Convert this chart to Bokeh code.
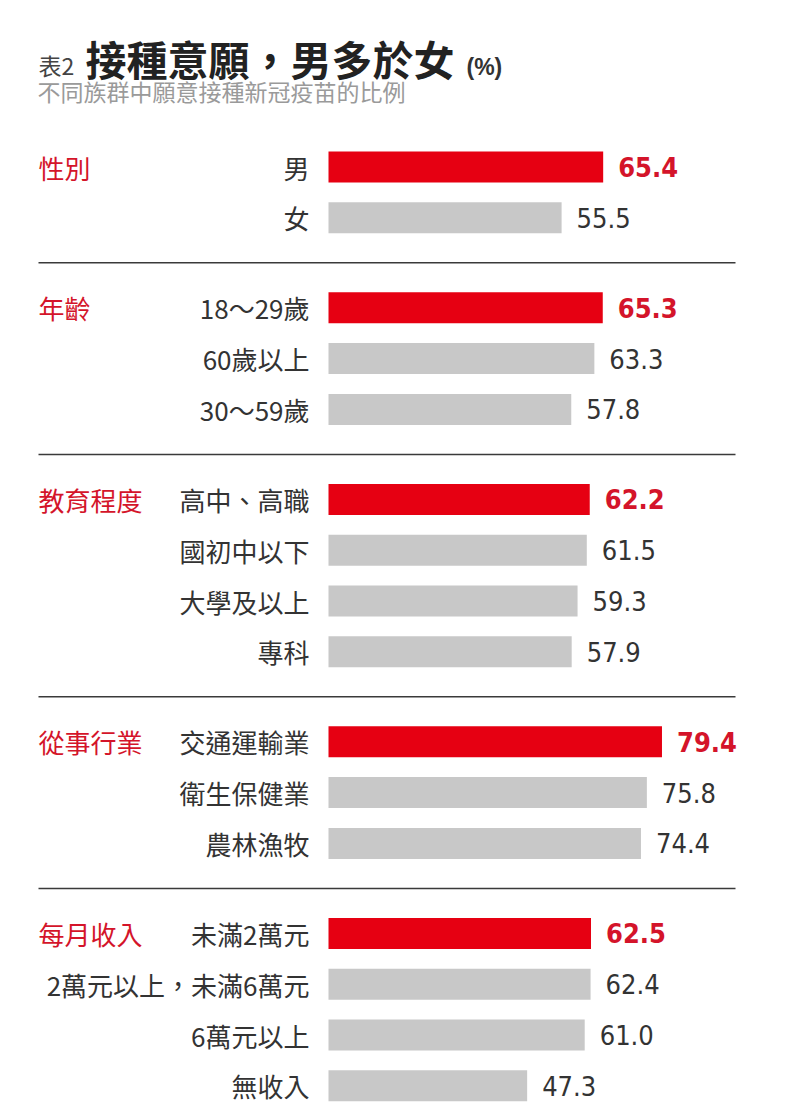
from bokeh.plotting import figure
from bokeh.models import Range1d
from bokeh.core.properties import value
from bokeh.embed import file_html
from bokeh.resources import INLINE

# ---- data ----
groups = ["性別", "年齡", "教育程度", "從事行業", "每月收入"]
group_sizes = [2, 3, 4, 3, 4]
categories = ["男", "女",
              "18～29歲", "60歲以上", "30～59歲",
              "高中、高職", "國初中以下", "大學及以上", "專科",
              "交通運輸業", "衛生保健業", "農林漁牧",
              "未滿2萬元", "2萬元以上，未滿6萬元", "6萬元以上", "無收入"]
values = [65.4, 55.5,
          65.3, 63.3, 57.8,
          62.2, 61.5, 59.3, 57.9,
          79.4, 75.8, 74.4,
          62.5, 62.4, 61.0, 47.3]
title_prefix = "表2"
title_main = "接種意願，男多於女"
title_unit = "(%)"
subtitle = "不同族群中願意接種新冠疫苗的比例"

# ---- layout ----
W, H = 792, 1118
S = 4.2            # px per percentage point
X0 = 328           # px position of value 0
TOP = 166.5
ROW = 50.8
GAP = 39.2
RED_BAR = "#e60012"
RED_TXT = "#d4142a"
GREY_BAR = "#c8c8c8"
TXT = "#333333"
CJK = "Noto Sans CJK TC"
NUM = "DejaVu Sans Condensed, Roboto, sans-serif"

xs = -X0 / S
p = figure(width=W, height=H, x_range=Range1d(xs, (W - X0) / S),
           y_range=Range1d(H, 0), output_backend="svg",
           toolbar_location=None, min_border=0)
p.axis.visible = False
p.grid.visible = False
p.outline_line_color = None
p.background_fill_color = "white"
p.border_fill_color = "white"

ys, first_flags = [], []
i = 0
for g, n in enumerate(group_sizes):
    for k in range(n):
        ys.append(TOP + i * ROW + g * GAP)
        first_flags.append(k == 0)
        i += 1

colors = [RED_BAR if f else GREY_BAR for f in first_flags]
p.hbar(y=ys, left=0, right=values, height=31, color=colors, line_color=None)

p.text(x=[0] * len(ys), y=ys, text=categories, x_offset=-19,
       text_align="right", text_baseline="middle",
       text_font=value(CJK), text_font_size="26px", text_color=TXT)

hi = [j for j, f in enumerate(first_flags) if f]
lo = [j for j, f in enumerate(first_flags) if not f]
p.text(x=[values[j] for j in hi], y=[ys[j] for j in hi],
       text=["%.1f" % values[j] for j in hi], x_offset=15,
       text_align="left", text_baseline="middle",
       text_font=value(NUM), text_font_style="bold",
       text_font_size="27px", text_color=RED_TXT)
p.text(x=[values[j] for j in lo], y=[ys[j] for j in lo],
       text=["%.1f" % values[j] for j in lo], x_offset=15,
       text_align="left", text_baseline="middle",
       text_font=value(NUM), text_font_size="27px", text_color=TXT)

# group labels
gy = [ys[j] for j in hi]
p.text(x=[xs] * len(groups), y=gy, text=groups, x_offset=38,
       text_align="left", text_baseline="middle",
       text_font=value(CJK), text_font_size="26px", text_color=RED_TXT)

# separators
seps = []
start = 0
for n in group_sizes[:-1]:
    last = start + n - 1
    seps.append((ys[last] + ys[last + 1]) / 2)
    start += n
p.segment(x0=[(38 - X0) / S] * len(seps), x1=[(735 - X0) / S] * len(seps),
          y0=seps, y1=seps, line_color="#3a3a3a", line_width=1.5)

# titles
p.text(x=[xs], y=[64], text=[title_prefix], x_offset=38,
       text_align="left", text_baseline="middle",
       text_font=value(CJK), text_font_size="23px", text_color="#444444")
p.text(x=[xs], y=[57], text=[title_main], x_offset=85,
       text_align="left", text_baseline="middle",
       text_font=value(CJK), text_font_style="bold",
       text_font_size="41px", text_color="#222222")
p.text(x=[xs], y=[66], text=[title_unit], x_offset=466,
       text_align="left", text_baseline="middle",
       text_font=value("Liberation Sans"), text_font_style="bold",
       text_font_size="23px", text_color="#333333")
p.text(x=[xs], y=[90], text=[subtitle], x_offset=37,
       text_align="left", text_baseline="middle",
       text_font=value(CJK), text_font_size="23px", text_color="#9a9a9a")

open("out.html", "w").write(file_html(p, INLINE))
